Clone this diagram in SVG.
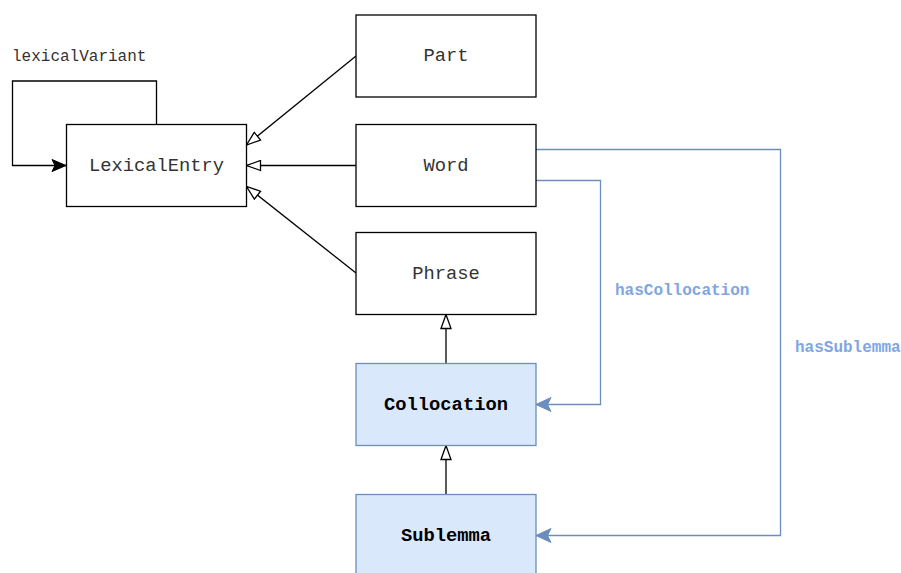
<svg xmlns="http://www.w3.org/2000/svg" width="901" height="573" viewBox="0 0 901 573">
<defs>
<style>
.box{fill:#fff;stroke:#000;stroke-width:1.3}
.bbox{fill:#dae8fc;stroke:#6c8ebf;stroke-width:1.3}
.t{font-family:"Liberation Mono","Courier New",monospace;font-size:18.8px;fill:#333;text-anchor:middle;dominant-baseline:central}
.tb{font-family:"Liberation Mono","Courier New",monospace;font-size:18.8px;fill:#000;font-weight:bold;text-anchor:middle;dominant-baseline:central}
.el{font-family:"Liberation Mono","Courier New",monospace;font-size:16px;fill:#333}
.elb{font-family:"Liberation Mono","Courier New",monospace;font-size:16px;fill:#7ea6e0;font-weight:bold}
.k{fill:none;stroke:#000;stroke-width:1.3}
.b{fill:none;stroke:#6c8ebf;stroke-width:1.3}
</style>
<marker id="hol" viewBox="0 0 16 12" refX="15" refY="6" markerWidth="16" markerHeight="12" markerUnits="userSpaceOnUse" orient="auto">
<path d="M1,1 L15,6 L1,11 Z" fill="#fff" stroke="#000" stroke-width="1.3"/>
</marker>
<marker id="blk" viewBox="0 0 16 14" refX="15" refY="7" markerWidth="16" markerHeight="14" markerUnits="userSpaceOnUse" orient="auto">
<path d="M1,1 L15,7 L1,13 L4,7 Z" fill="#000" stroke="#000" stroke-width="1"/>
</marker>
<marker id="blu" viewBox="0 0 17 16" refX="16" refY="8" markerWidth="17" markerHeight="16" markerUnits="userSpaceOnUse" orient="auto">
<path d="M1,1 L16,8 L1,15 L4.5,8 Z" fill="#6c8ebf" stroke="#6c8ebf" stroke-width="1"/>
</marker>
</defs>
<rect width="901" height="573" fill="#fff"/>
<g id="connectors">
<path class="k" d="M156.5,124.5 V81 H12.5 V165.5 H66" marker-end="url(#blk)"/>
<text class="el" x="12" y="61">lexicalVariant</text>
<path class="k" d="M356,56 L246.5,145" marker-end="url(#hol)"/>
<path class="k" d="M356,165.5 H246.5" marker-end="url(#hol)"/>
<path class="k" d="M356,273 L246.5,186.5" marker-end="url(#hol)"/>
<path class="k" d="M446,363.5 V314.5" marker-end="url(#hol)"/>
<path class="k" d="M446,494.5 V445.5" marker-end="url(#hol)"/>
<path class="b" d="M536,180.5 H600.5 V404.5 H536" marker-end="url(#blu)"/>
<text class="elb" x="615" y="295">hasCollocation</text>
<path class="b" d="M536,149.5 H780.5 V535.5 H536" marker-end="url(#blu)"/>
<text class="elb" x="795" y="352">hasSublemma</text>
</g>
<g id="LexicalEntry"><rect class="box" x="66.5" y="124.5" width="180" height="82"/><text class="t" x="156.5" y="165.5">LexicalEntry</text></g>
<g id="Part"><rect class="box" x="356" y="15" width="180" height="82"/><text class="t" x="446" y="56">Part</text></g>
<g id="Word"><rect class="box" x="356" y="124.5" width="180" height="82"/><text class="t" x="446" y="165.5">Word</text></g>
<g id="Phrase"><rect class="box" x="356" y="232.5" width="180" height="82"/><text class="t" x="446" y="273.5">Phrase</text></g>
<g id="Collocation"><rect class="bbox" x="356" y="363.5" width="180" height="82"/><text class="tb" x="446" y="404.5">Collocation</text></g>
<g id="Sublemma"><rect class="bbox" x="356" y="494.5" width="180" height="82"/><text class="tb" x="446" y="535.5">Sublemma</text></g>
</svg>
